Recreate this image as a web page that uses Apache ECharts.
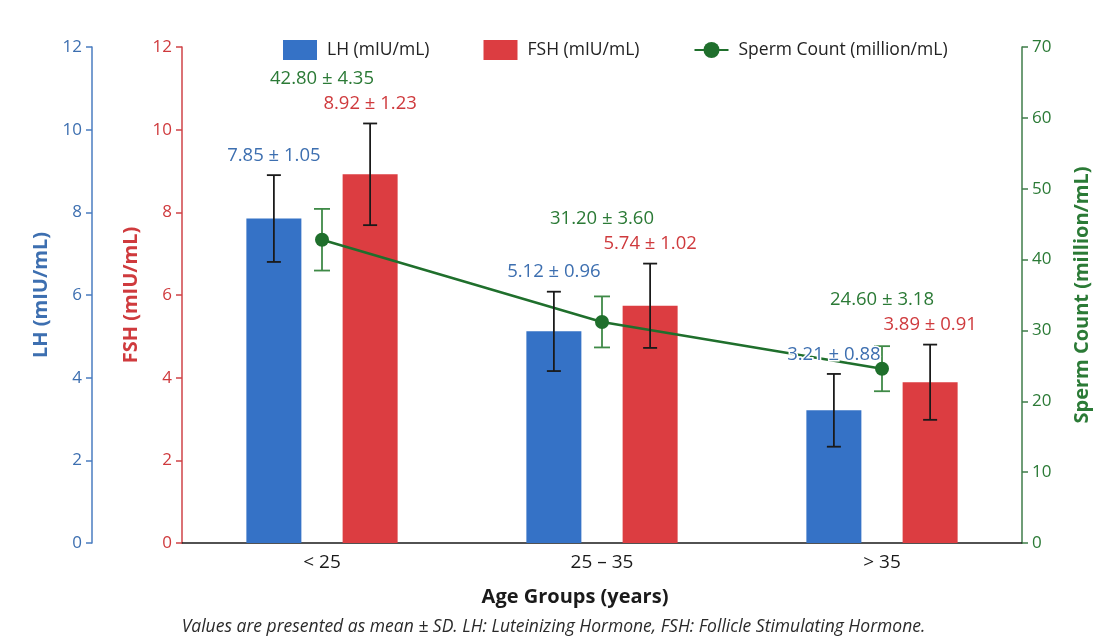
<!DOCTYPE html>
<html>
<head>
<meta charset="utf-8">
<script src="https://cdn.jsdelivr.net/npm/echarts@6/dist/echarts.min.js"></script>
<style>
  html, body { margin: 0; padding: 0; background: #ffffff; }
  #chart { width: 1107px; height: 643px; }
</style>
</head>
<body>
<div id="chart"></div>
<script>
// Age groups and mean ± SD for each measure
const categories = ['< 25', '25 – 35', '> 35'];
const lhMean = [7.85, 5.12, 3.21];
const lhSD = [1.05, 0.96, 0.88];
const fshMean = [8.92, 5.74, 3.89];
const fshSD = [1.23, 1.02, 0.91];
const spermMean = [42.80, 31.20, 24.60];
const spermSD = [4.35, 3.60, 3.18];

const hormoneTicks = { min: 0, max: 12, interval: 2 };
const spermTicks = { min: 0, max: 70, interval: 10 };

const FONT = '"Open Sans", "Noto Sans", sans-serif';
const BLUE = '#3572c6';
const RED = '#dc3d41';
const GREEN = '#1f6f2c';
const BLUE_TXT = '#3d6fb0';
const RED_TXT = '#cf3a3d';
const GREEN_TXT = '#2b7a36';

const BAR_WIDTH = 55;
const BAR_GAP = 0.75;                                     // fraction of bar width
const BAR_SHIFT = (BAR_WIDTH + BAR_WIDTH * BAR_GAP) / 2;  // centre offset of each bar
const LABEL_GAP = 10;   // space between an upper cap and its label
const LABEL_H = 21;     // height reserved for one value label
const LABEL_FONT = '18.5px ' + FONT;

const fmt = (m, s) => m.toFixed(2) + ' \u00b1 ' + s.toFixed(2);

const chart = echarts.init(document.getElementById('chart'), null, { renderer: 'canvas' });

// Pixel y of the top of a hormone label in group i (axis 0 = LH, axis 1 = FSH)
function hormoneLabelTop(axisIndex, means, sds, i) {
  const y = chart.convertToPixel({ yAxisIndex: axisIndex }, means[i] + sds[i]);
  return y - LABEL_GAP - LABEL_H;
}

// Error bar with its "mean ± SD" label above the upper cap
function errorBars(shift, lineColor, labelColor, capHalf, lineWidth, labelY) {
  return function (params, api) {
    const i = api.value(0), m = api.value(1), s = api.value(2);
    const top = api.coord([i, m + s]);
    const bot = api.coord([i, m - s]);
    const x = top[0] + shift;
    const st = { stroke: lineColor, lineWidth: lineWidth };
    const ty = labelY ? labelY(i, top[1]) : top[1] - LABEL_GAP;
    return {
      type: 'group',
      children: [
        { type: 'line', shape: { x1: x, y1: top[1], x2: x, y2: bot[1] }, style: st },
        { type: 'line', shape: { x1: x - capHalf, y1: top[1], x2: x + capHalf, y2: top[1] }, style: st },
        { type: 'line', shape: { x1: x - capHalf, y1: bot[1], x2: x + capHalf, y2: bot[1] }, style: st },
        {
          type: 'text', x: x, y: ty, z2: 10,
          style: {
            text: fmt(m, s), fill: labelColor, font: LABEL_FONT,
            align: 'center', verticalAlign: 'bottom',
            stroke: '#ffffff', lineWidth: 3
          }
        }
      ]
    };
  };
}

// Sperm labels sit above everything else in their age group
function spermLabelY(i, capY) {
  let y = capY - LABEL_GAP;
  try {
    y = Math.min(y,
      hormoneLabelTop(0, lhMean, lhSD, i) - 4,
      hormoneLabelTop(1, fshMean, fshSD, i) - 4);
  } catch (e) { /* keep default placement */ }
  return y;
}

const rows = (means, sds) => means.map((m, i) => [i, m, sds[i]]);

function yAxisStyle(color, txtColor) {
  return {
    axisLine: { show: true, lineStyle: { color: color, width: 1.5 } },
    axisTick: { show: true, length: 6, lineStyle: { color: color, width: 1.5 } },
    axisLabel: { color: txtColor, fontSize: 17, fontFamily: FONT, margin: 10 },
    splitLine: { show: false },
    nameLocation: 'middle',
    nameTextStyle: { color: txtColor, fontSize: 20, fontWeight: 'bold', fontFamily: FONT }
  };
}

chart.setOption({
  backgroundColor: '#ffffff',
  animation: false,
  textStyle: { fontFamily: FONT },
  grid: { left: 182, right: 85, top: 47, bottom: 100, containLabel: false },
  legend: {
    left: 278, top: 35,
    itemWidth: 34, itemHeight: 20, itemGap: 54,
    textStyle: { fontSize: 17.5, color: '#222', fontFamily: FONT, padding: [0, 0, 0, 5] },
    data: [
      { name: 'LH (mIU/mL)', icon: 'rect' },
      { name: 'FSH (mIU/mL)', icon: 'rect' },
      { name: 'Sperm Count (million/mL)' }
    ]
  },
  xAxis: {
    type: 'category',
    data: categories,
    axisLine: { lineStyle: { color: '#1a1a1a', width: 1.5 } },
    axisTick: { show: false },
    axisLabel: { color: '#1a1a1a', fontSize: 19, fontFamily: FONT, margin: 10 },
    name: 'Age Groups (years)',
    nameLocation: 'middle',
    nameGap: 44,
    nameTextStyle: {
      color: '#1a1a1a', fontSize: 20, fontWeight: 'bold', fontFamily: FONT,
      padding: [0, 54, 0, 0]
    }
  },
  yAxis: [
    Object.assign({
      type: 'value', position: 'left', offset: 90,
      name: 'LH (mIU/mL)', nameGap: 40
    }, hormoneTicks, yAxisStyle('#4a7cc0', BLUE_TXT)),
    Object.assign({
      type: 'value', position: 'left',
      name: 'FSH (mIU/mL)', nameGap: 37
    }, hormoneTicks, yAxisStyle('#cf4347', RED_TXT)),
    Object.assign({
      type: 'value', position: 'right',
      name: 'Sperm Count (million/mL)', nameGap: 50
    }, spermTicks, yAxisStyle('#3f7d4a', GREEN_TXT))
  ],
  series: [
    {
      name: 'LH (mIU/mL)', type: 'bar', yAxisIndex: 0,
      data: lhMean, barWidth: BAR_WIDTH, barGap: (BAR_GAP * 100) + '%',
      itemStyle: { color: BLUE }, z: 2
    },
    {
      name: 'FSH (mIU/mL)', type: 'bar', yAxisIndex: 1,
      data: fshMean, barWidth: BAR_WIDTH,
      itemStyle: { color: RED }, z: 2
    },
    {
      name: 'LH error', type: 'custom', yAxisIndex: 0, z: 7, clip: false,
      renderItem: errorBars(-BAR_SHIFT, '#1a1a1a', BLUE_TXT, 7, 1.8),
      data: rows(lhMean, lhSD), silent: true
    },
    {
      name: 'FSH error', type: 'custom', yAxisIndex: 1, z: 7, clip: false,
      renderItem: errorBars(BAR_SHIFT, '#1a1a1a', RED_TXT, 7, 1.8),
      data: rows(fshMean, fshSD), silent: true
    },
    {
      name: 'Sperm error', type: 'custom', yAxisIndex: 2, z: 3, clip: false,
      renderItem: errorBars(0, '#3f8a47', GREEN_TXT, 8, 1.8, spermLabelY),
      data: rows(spermMean, spermSD), silent: true
    },
    {
      name: 'Sperm Count (million/mL)', type: 'line', yAxisIndex: 2,
      data: spermMean, symbol: 'circle', symbolSize: 14,
      lineStyle: { color: GREEN, width: 2.5 },
      itemStyle: { color: GREEN }, z: 6
    }
  ],
  graphic: [
    {
      type: 'text', left: 'center', top: 618,
      style: {
        text: 'Values are presented as mean \u00b1 SD. LH: Luteinizing Hormone, FSH: Follicle Stimulating Hormone.',
        fill: '#2a2a2a', font: 'italic 17.5px ' + FONT
      }
    }
  ]
});
</script>
</body>
</html>
